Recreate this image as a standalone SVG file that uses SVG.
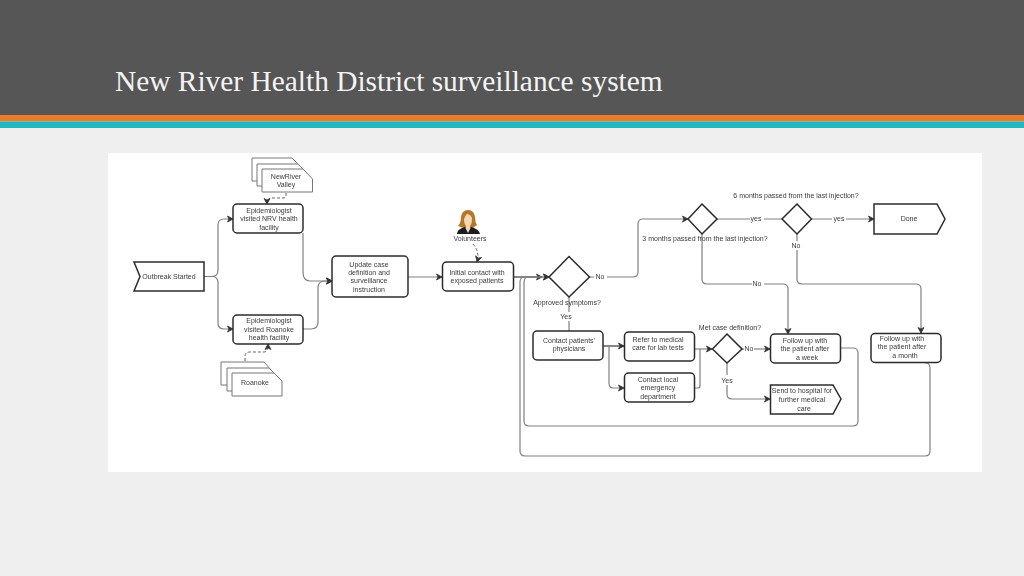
<svg xmlns="http://www.w3.org/2000/svg" width="1024" height="576" viewBox="0 0 1024 576">
<style>
text{font-family:"Liberation Sans",Arial,sans-serif;font-size:7px;fill:#3a3a3a;text-anchor:middle}
.title{font-family:"Liberation Serif","Times New Roman",serif;font-size:29.4px;fill:#f4f4f4;text-anchor:start}
.n{fill:#fff;stroke:#2b2b2b;stroke-width:1.5}
.d{fill:#fff;stroke:#777;stroke-width:1}
.c{fill:none;stroke:#808080;stroke-width:1.2}
.k{fill:none;stroke:#444;stroke-width:1.3}
.dash{fill:none;stroke:#666;stroke-width:1;stroke-dasharray:3 2}
.lb{fill:#fff;stroke:none}
</style>
<defs>
<marker id="a" markerWidth="9" markerHeight="9" refX="7" refY="4" orient="auto" markerUnits="userSpaceOnUse"><path d="M1.500 1L7 4L1.500 7L3 4Z" fill="#333" stroke="#333" stroke-width="0.8"/></marker>
<filter id="soft" filterUnits="userSpaceOnUse" x="108" y="153" width="874" height="319"><feGaussianBlur stdDeviation="0.3"/></filter>
</defs>
<rect width="1024" height="576" fill="#efefef"/>
<rect width="1024" height="115" fill="#565656"/>
<rect y="115" width="1024" height="6.500" fill="#e77c2a"/>
<rect y="121.500" width="1024" height="6.500" fill="#22b6c1"/>
<text class="title" x="115" y="91">New River Health District surveillance system</text>
<rect x="108" y="153" width="874" height="319" fill="#fff"/>

<g id="diagram" filter="url(#soft)">
<g id="connectors">
<path class="c" d="M204 276.500H212Q218 276.500 218 270V225Q218 219 224 219H233" marker-end="url(#a)"/>
<path class="c" d="M212 276.500Q218 276.500 218 283V323Q218 329 224 329H233" marker-end="url(#a)"/>
<path class="c" d="M303 233V272Q303 281 310 281H332" marker-end="url(#a)"/>
<path class="c" d="M303 329H311Q318 329 318 322V288Q318 281 325 281H332" marker-end="url(#a)"/>
<path class="c" d="M408 277H442" marker-end="url(#a)"/>
<path class="k" d="M513 277H542" marker-end="url(#a)"/>
<path class="c" d="M589 277H633Q638 277 638 272V224Q638 219 643 219H688" marker-end="url(#a)"/>
<path class="c" d="M717 219H782"/>
<path class="c" d="M811 219H874" marker-end="url(#a)"/>
<path class="c" d="M702 234V279Q702 284 707 284H783Q788 284 788 289V334" marker-end="url(#a)"/>
<path class="c" d="M797 234V279Q797 284 802 284H916Q921 284 921 289V333" marker-end="url(#a)"/>
<path class="c" d="M569 297V331"/>
<path class="k" d="M603 346H624" marker-end="url(#a)"/>
<path class="c" d="M609 346V383Q609 388 613 388H624" marker-end="url(#a)"/>
<path class="c" d="M695 349H712" marker-end="url(#a)"/>
<path class="c" d="M695 388H698Q700 388 700 386V349"/>
<path class="c" d="M742 349H770" marker-end="url(#a)"/>
<path class="c" d="M727 363V394Q727 399 732 399H770" marker-end="url(#a)"/>
<path class="c" d="M841 348H853Q858 348 858 353V421Q858 426 853 426H529Q524 426 524 421V282Q524 277 529 277H549" marker-end="url(#a)"/>
<path class="c" d="M925 363H926Q930 363 930 368V451Q930 456 925 456H525Q520 456 520 451V282Q520 277 525 277H549" marker-end="url(#a)"/>
<path class="dash" d="M286 193V196Q286 198 283 198H272Q267 198 267 204" marker-end="url(#a)"/>
<path class="dash" d="M245 361V356Q245 352 250 352H264Q268 352 268 344" marker-end="url(#a)"/>
<path class="dash" d="M473 244Q480 252 477 262" marker-end="url(#a)"/>
</g>

<g id="outbreak"><polygon class="n" points="134,262 204,262 204,291 134,291 140,276.500"/><text x="169" y="279">Outbreak Started</text></g>

<g id="newriver-doc">
<polygon class="d" points="252,158 292,158 302,168 302,181 252,181"/>
<polygon class="d" points="257,164 298,164 307,173 307,186 257,186"/>
<polygon class="d" points="262,169 303,169 312.500,179 312.500,192 262,192"/>
<text x="286" y="179">NewRiver</text><text x="286" y="187">Valley</text>
</g>
<g id="nrv"><rect class="n" x="233" y="204" width="70" height="29" rx="4"/><text x="269" y="213">Epidemiologist</text><text x="269" y="221">visited NRV health</text><text x="269" y="230">facility</text></g>
<g id="roanoke"><rect class="n" x="233" y="315" width="70" height="29" rx="4"/><text x="269" y="323">Epidemiologist</text><text x="269" y="332">visited Roanoke</text><text x="269" y="340">health facility</text></g>
<g id="roanoke-doc">
<polygon class="d" points="221,362 264,362 271,370 271,385 221,385"/>
<polygon class="d" points="227,368 269,368 276,375 276,391 227,391"/>
<polygon class="d" points="232,373 274,373 282,381 282,396 232,396"/>
<text x="255" y="385">Roanoke</text>
</g>
<g id="update"><rect class="n" x="332" y="256" width="76" height="41" rx="4"/><text x="369" y="267">Update case</text><text x="369" y="275">definition and</text><text x="369" y="283">surveillance</text><text x="369" y="292">instruction</text></g>

<g id="volunteers">
<path d="M468 210Q462 210 461 217Q461 223 458 226L463 228H473L477 225Q475 222 475 217Q474 210 468 210Z" fill="#b5772a"/>
<path d="M464 219Q464 224 466 226V229L468 233L470 229V226Q472 224 472 218Q470 214 467 214Q465 216 464 219Z" fill="#f7d6b5"/>
<path d="M457 234Q457 229 465 227L468 233L471 227Q479 229 480 234Z" fill="#1e1e1e"/>
<text x="470" y="241">Volunteers</text>
</g>
<g id="initial"><rect class="n" x="442.500" y="262" width="71" height="29" rx="4"/><text x="477" y="275">Initial contact with</text><text x="477" y="283">exposed patients</text></g>
<g id="approved"><polygon class="n" points="569,256.500 589.500,277 569,297 549,277"/><text x="567" y="305">Approved symptoms?</text></g>
<g id="three"><polygon class="n" points="702,204 717,219 702,234 688,219"/><text x="705" y="241">3 months passed from the last injection?</text></g>
<g id="six"><polygon class="n" points="797,204 811.500,219 797,234 782,219"/><text x="796" y="198">6 months passed from the last injection?</text></g>
<g id="done"><polygon class="n" points="874,204 937,204 945,219 937,234 874,234"/><text x="909" y="221">Done</text></g>
<g id="physicians"><rect class="n" x="533" y="331" width="70" height="29" rx="4"/><text x="569" y="343">Contact patients'</text><text x="569" y="351">physicians</text></g>
<g id="refer"><rect class="n" x="624.500" y="332" width="70" height="29" rx="4"/><text x="658" y="342">Refer to medical</text><text x="658" y="350">care for lab tests</text></g>
<g id="local"><rect class="n" x="624.500" y="373" width="70" height="29" rx="4"/><text x="658" y="382">Contact local</text><text x="658" y="390">emergency</text><text x="658" y="399">department</text></g>
<g id="met"><polygon class="n" points="727,334 742,349 727,363 712.500,349"/><text x="730" y="330">Met case definition?</text></g>
<g id="week"><rect class="n" x="770.500" y="334" width="70" height="29" rx="4"/><text x="805" y="343">Follow up with</text><text x="805" y="351">the patient after</text><text x="807" y="360">a week</text></g>
<g id="month"><rect class="n" x="871" y="333.500" width="70" height="29" rx="4"/><text x="902" y="341">Follow up with</text><text x="902" y="349">the patient after</text><text x="905" y="358">a month</text></g>
<g id="send"><polygon class="n" points="770.500,385 833,385 841,399 833,414 770.500,414"/><text x="802" y="393">Send to hospital for</text><text x="802" y="402">further medical</text><text x="804" y="411">care</text></g>

<g id="edge-labels">
<rect class="lb" x="594" y="272" width="13" height="10"/><text x="600" y="279">No</text>
<rect class="lb" x="559" y="312" width="14" height="9"/><text x="566" y="319">Yes</text>
<rect class="lb" x="750" y="214" width="14" height="10"/><text x="756" y="221">yes</text>
<rect class="lb" x="832" y="214" width="14" height="10"/><text x="839" y="221">yes</text>
<rect class="lb" x="791" y="241" width="12" height="9"/><text x="796" y="248">No</text>
<rect class="lb" x="752" y="279" width="12" height="10"/><text x="757" y="286">No</text>
<rect class="lb" x="744" y="344" width="10" height="10"/><text x="749" y="351">No</text>
<rect class="lb" x="720" y="375" width="14" height="10"/><text x="727" y="383">Yes</text>
</g>
</g>
</svg>
